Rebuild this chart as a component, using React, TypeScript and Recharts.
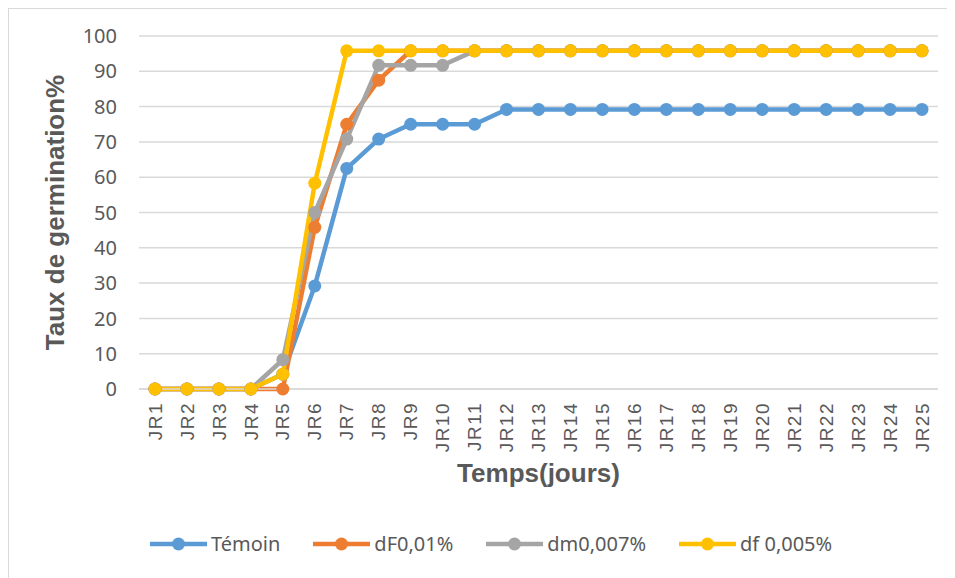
import React from 'react';
import { LineChart, Line, XAxis, YAxis, CartesianGrid, Legend } from 'recharts';

const days = [
  'JR1', 'JR2', 'JR3', 'JR4', 'JR5', 'JR6', 'JR7', 'JR8', 'JR9', 'JR10', 'JR11', 'JR12', 'JR13',
  'JR14', 'JR15', 'JR16', 'JR17', 'JR18', 'JR19', 'JR20', 'JR21', 'JR22', 'JR23', 'JR24', 'JR25',
];

const temoin = [0, 0, 0, 0, 4.2, 29.2, 62.5, 70.8, 75, 75, 75, 79.2, 79.2, 79.2, 79.2, 79.2, 79.2, 79.2, 79.2, 79.2, 79.2, 79.2, 79.2, 79.2, 79.2];
const dF001 = [0, 0, 0, 0, 0, 45.8, 75, 87.5, 95.8, 95.8, 95.8, 95.8, 95.8, 95.8, 95.8, 95.8, 95.8, 95.8, 95.8, 95.8, 95.8, 95.8, 95.8, 95.8, 95.8];
const dm0007 = [0, 0, 0, 0, 8.3, 50, 70.8, 91.7, 91.7, 91.7, 95.8, 95.8, 95.8, 95.8, 95.8, 95.8, 95.8, 95.8, 95.8, 95.8, 95.8, 95.8, 95.8, 95.8, 95.8];
const df0005 = [0, 0, 0, 0, 4.2, 58.3, 95.8, 95.8, 95.8, 95.8, 95.8, 95.8, 95.8, 95.8, 95.8, 95.8, 95.8, 95.8, 95.8, 95.8, 95.8, 95.8, 95.8, 95.8, 95.8];

const yTicks = [0, 10, 20, 30, 40, 50, 60, 70, 80, 90, 100];

const series = [
  { key: 'temoin', name: 'Témoin', color: '#5B9BD5' },
  { key: 'dF', name: 'dF0,01%', color: '#ED7D31' },
  { key: 'dm', name: 'dm0,007%', color: '#A5A5A5' },
  { key: 'df', name: 'df 0,005%', color: '#FFC000' },
];

const data = days.map((d, i) => ({
  day: d,
  temoin: temoin[i],
  dF: dF001[i],
  dm: dm0007[i],
  df: df0005[i],
}));

const grey = '#595959';
const M = { top: 27, right: 17, left: 30, bottom: 18 };
const H = 569;
const XH = 141;
const LH = 30;
const plotMid = M.top + (H - M.top - M.bottom - LH - XH) / 2;

const XTick = (props: any) => {
  const { x, y, payload } = props;
  return (
    <text
      transform={`translate(${x},${y + 5}) rotate(-90)`}
      textAnchor="end"
      dy="0.35em"
      fontSize={19}
      letterSpacing={1.5}
      fill={grey}
      fontFamily="Liberation Sans, Arial, sans-serif"
    >
      {payload.value}
    </text>
  );
};

const LegendContent = () => (
  <div style={{ display: 'flex', justifyContent: 'flex-start', paddingLeft: 111 }}>
    {series.map((s) => (
      <div key={s.key} style={{ display: 'flex', alignItems: 'center', marginRight: 33 }}>
        <svg width={57} height={20}>
          <line x1={0} y1={10} x2={57} y2={10} stroke={s.color} strokeWidth={4.5} />
          <circle cx={28.5} cy={10} r={6.5} fill={s.color} />
        </svg>
        <span style={{ fontSize: 20, color: grey, fontFamily: 'Noto Sans, sans-serif', marginLeft: 4 }}>{s.name}</span>
      </div>
    ))}
  </div>
);

export default function App() {
  return (
    <div style={{ width: 947, height: 570, borderLeft: '1px solid #d9d9d9', borderTop: '1px solid #d9d9d9', background: '#fff' }}>
      <LineChart width={946} height={H} data={data} margin={M}>
        <CartesianGrid vertical={false} stroke="#d9d9d9" strokeWidth={1.5} />
        <XAxis
          dataKey="day"
          interval={0}
          height={XH}
          padding={{ left: 16, right: 16 }}
          tickLine={false}
          axisLine={{ stroke: '#d9d9d9', strokeWidth: 1.5 }}
          tick={<XTick />}
          label={{
            content: (p: any) => {
              const vb = p.viewBox;
              return (
                <text
                  x={vb.x + vb.width / 2}
                  y={vb.y + 93}
                  textAnchor="middle"
                  fontSize={26}
                  fontWeight="bold"
                  fill={grey}
                  fontFamily="Liberation Sans, Arial, sans-serif"
                >
                  Temps(jours)
                </text>
              );
            },
          }}
        />
        <YAxis
          domain={[0, 100]}
          ticks={yTicks}
          width={100}
          tickLine={false}
          axisLine={false}
          tickSize={0}
          tickMargin={22}
          tick={{ fontSize: 20, fill: grey, fontFamily: 'Noto Sans, sans-serif' }}
          label={{
            content: (p: any) => {
              const vb = p.viewBox;
              const cx = vb.x + 25;
              return (
                <text
                  transform={`translate(${cx},${plotMid}) rotate(-90)`}
                  textAnchor="middle"
                  fontSize={26}
                  fontWeight="bold"
                  fill={grey}
                  fontFamily="Liberation Sans, Arial, sans-serif"
                >
                  Taux de germination%
                </text>
              );
            },
          }}
        />
        <Legend verticalAlign="bottom" height={LH} content={<LegendContent />} />
        {series.map((s) => (
          <Line
            key={s.key}
            type="linear"
            dataKey={s.key}
            name={s.name}
            stroke={s.color}
            strokeWidth={4.5}
            dot={{ r: 6.5, fill: s.color, stroke: s.color, strokeWidth: 0 }}
            activeDot={false}
            isAnimationActive={false}
          />
        ))}
      </LineChart>
    </div>
  );
}
